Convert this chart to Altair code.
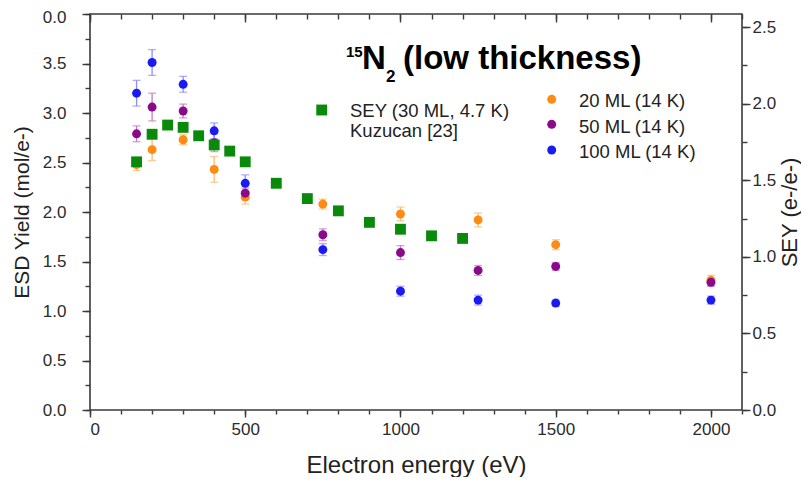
import altair as alt
import pandas as pd

# ---------------- data ----------------
energy_esd = [150, 200, 300, 400, 500, 750, 1000, 1250, 1500, 2000]
yield_20 = [2.48, 2.63, 2.73, 2.43, 2.15, 2.08, 1.98, 1.92, 1.67, 1.31]
err_20 = [0.06, 0.11, 0.05, 0.13, 0.07, 0.05, 0.07, 0.07, 0.05, 0.05]
yield_50 = [2.79, 3.06, 3.02, 2.70, 2.19, 1.77, 1.59, 1.41, 1.45, 1.29]
err_50 = [0.08, 0.14, 0.07, 0.09, 0.05, 0.06, 0.07, 0.05, 0.04, 0.04]
yield_100 = [3.20, 3.51, 3.29, 2.82, 2.29, 1.62, 1.20, 1.11, 1.08, 1.11]
err_100 = [0.13, 0.13, 0.08, 0.08, 0.085, 0.06, 0.05, 0.05, 0.03, 0.04]
series_names = ["20 ML (14 K)", "50 ML (14 K)", "100 ML (14 K)"]

energy_sey = [150, 200, 250, 300, 350, 400, 450, 500, 600, 700, 800, 900, 1000, 1100, 1200]
sey_values = [1.62, 1.80, 1.86, 1.845, 1.79, 1.73, 1.69, 1.62, 1.48, 1.38, 1.30, 1.225, 1.18, 1.137, 1.12]

x_major_ticks = [0, 500, 1000, 1500, 2000]
x_minor_ticks = list(range(0, 2101, 100))
yl_major_ticks = [0, 0.5, 1.0, 1.5, 2.0, 2.5, 3.0, 3.5, 4.0]
yl_minor_ticks = [i * 0.25 for i in range(17)]
yr_major_ticks = [0, 0.5, 1.0, 1.5, 2.0, 2.5]
yr_minor_ticks = [i * 0.25 for i in range(11)]

# ---------------- tables ----------------
rows = []
for name, ys, es in zip(series_names, [yield_20, yield_50, yield_100], [err_20, err_50, err_100]):
    for e, y, d in zip(energy_esd, ys, es):
        rows.append({"energy": e, "series": name, "value": y, "lo": y - d, "hi": y + d})
esd = pd.DataFrame(rows)
sey = pd.DataFrame({"energy": energy_sey, "sey": sey_values})
one = pd.DataFrame({"k": [0]})

FONT = "Liberation Sans"
FRAME = "#3a3a3a"
pt_colors = ["#FF8A14", "#8B0A8B", "#1A1AF5"]
bar_colors = ["#FFB870", "#C27AC2", "#8C8CFF"]
green = "#0A8A0A"

xscale = alt.Scale(domain=[0, 2100], nice=False, zero=False)
ylscale = alt.Scale(domain=[0, 4], nice=False)
yrscale = alt.Scale(domain=[0, 2.585], nice=False)

common = dict(grid=False, domain=False, tickColor=FRAME, tickWidth=1.4,
              labelFont=FONT, labelFontSize=17, labelColor="#2b2b2b",
              titleFont=FONT, titleColor="#222222", titleFontWeight="normal")

ax_x_major = alt.Axis(orient="bottom", values=x_major_ticks, tickSize=7, labelPadding=4,
                      format="d", title="Electron energy (eV)", titleFontSize=24,
                      titleBaseline="alphabetic", titleY=62, **common)
ax_x_minor = alt.Axis(orient="bottom", values=x_minor_ticks, tickSize=4, labels=False,
                      title=None, **common)
ax_x_top_major = alt.Axis(orient="top", values=x_major_ticks, tickSize=8, offset=-8,
                          labels=False, title=None, **common)
ax_x_top_minor = alt.Axis(orient="top", values=x_minor_ticks, tickSize=5, offset=-5,
                          labels=False, title=None, **common)
ax_yl_major = alt.Axis(orient="left", values=yl_major_ticks, tickSize=8, labelPadding=16,
                       labelOffset={"condition": {"test": "datum.value >= 4", "value": 3}, "value": 0},
                       labelExpr="datum.value >= 4 ? '0.0' : format(datum.value, '.1f')",
                       title="ESD Yield (mol/e-)", titleFontSize=21, titleAngle=270,
                       titleBaseline="alphabetic", titleX=-62, **common)
ax_yl_minor = alt.Axis(orient="left", values=yl_minor_ticks, tickSize=5, labels=False,
                       title=None, **common)
ax_yr_major = alt.Axis(orient="right", values=yr_major_ticks, tickSize=8, labelPadding=2,
                       format=".1f", title="SEY (e-/e-)", titleFontSize=22, titleAngle=270,
                       titleBaseline="alphabetic", titleX=54, **common)
ax_yr_minor = alt.Axis(orient="right", values=yr_minor_ticks, tickSize=5, labels=False,
                       title=None, **common)

base = alt.Chart(esd)
bar_color = alt.Color("series:N", scale=alt.Scale(domain=series_names, range=bar_colors), legend=None)
pt_color = alt.Color("series:N", scale=alt.Scale(domain=series_names, range=pt_colors), legend=None)

bars = base.mark_rule(strokeWidth=1.3).encode(
    x=alt.X("energy:Q", scale=xscale, axis=ax_x_major),
    y=alt.Y("lo:Q", scale=ylscale, axis=ax_yl_major),
    y2="hi:Q",
    color=bar_color,
)
caps_lo = base.mark_tick(orient="horizontal", size=8, thickness=1.3).encode(
    x=alt.X("energy:Q", scale=xscale, axis=ax_x_minor),
    y=alt.Y("lo:Q", scale=ylscale, axis=ax_yl_minor),
    color=bar_color,
)
caps_hi = base.mark_tick(orient="horizontal", size=8, thickness=1.3).encode(
    x=alt.X("energy:Q", scale=xscale, axis=ax_x_top_major),
    y=alt.Y("hi:Q", scale=ylscale, axis=None),
    color=bar_color,
)
points = base.mark_point(filled=True, shape="circle", size=80, opacity=1).encode(
    x=alt.X("energy:Q", scale=xscale, axis=ax_x_top_minor),
    y=alt.Y("value:Q", scale=ylscale, axis=None),
    color=pt_color,
)
squares = alt.Chart(sey).mark_point(filled=True, shape="square", size=118, opacity=1,
                                    color=green).encode(
    x=alt.X("energy:Q", scale=xscale, axis=None),
    y=alt.Y("sey:Q", scale=yrscale, axis=ax_yr_major),
)
sey_minor = alt.Chart(sey).mark_point(opacity=0).encode(
    x=alt.X("energy:Q", scale=xscale, axis=None),
    y=alt.Y("sey:Q", scale=yrscale, axis=ax_yr_minor),
)

def txt(s, x, y, size, bold=False, color="#111111"):
    return alt.Chart(one).mark_text(text=s, font=FONT, fontSize=size,
                                    fontWeight="bold" if bold else "normal",
                                    align="left", baseline="alphabetic", color=color).encode(
        x=alt.value(x), y=alt.value(y))

def sym(x, y, shape, size, color):
    return alt.Chart(one).mark_point(filled=True, shape=shape, size=size, opacity=1,
                                     color=color).encode(x=alt.value(x), y=alt.value(y))

title_layers = [
    txt("15", 256, 43, 15, True, "#000000"),
    txt("N", 272, 55, 33, True, "#000000"),
    txt("2", 296, 68, 17, True, "#000000"),
    txt("(low thickness)", 313, 55, 33, True, "#000000"),
]
legend_layers = [
    sym(231.7, 96, "square", 118, green),
    txt("SEY (30 ML, 4.7 K)", 260, 102.7, 18.5, False, "#222222"),
    txt("Kuzucan [23]", 260, 122.7, 18.5, False, "#222222"),
    sym(461.7, 85.3, "circle", 80, pt_colors[0]),
    sym(461.7, 110.3, "circle", 80, pt_colors[1]),
    sym(461.7, 136, "circle", 80, pt_colors[2]),
    txt(series_names[0], 489, 93.3, 18.5, False, "#222222"),
    txt(series_names[1], 489, 118.7, 18.5, False, "#222222"),
    txt(series_names[2], 489, 144.3, 18.5, False, "#222222"),
]

chart = alt.layer(
    bars, caps_lo, caps_hi, points, squares, sey_minor, *title_layers, *legend_layers
).resolve_scale(
    y="independent", color="independent"
).resolve_axis(
    x="independent", y="independent"
).properties(
    width=652, height=396, autosize="none",
    padding={"left": 82, "top": 6, "right": 59, "bottom": 67},
    background="white",
).configure_view(stroke=FRAME, strokeWidth=1.6)

chart.save("out.html", embed_options={"renderer": "svg", "actions": False})
